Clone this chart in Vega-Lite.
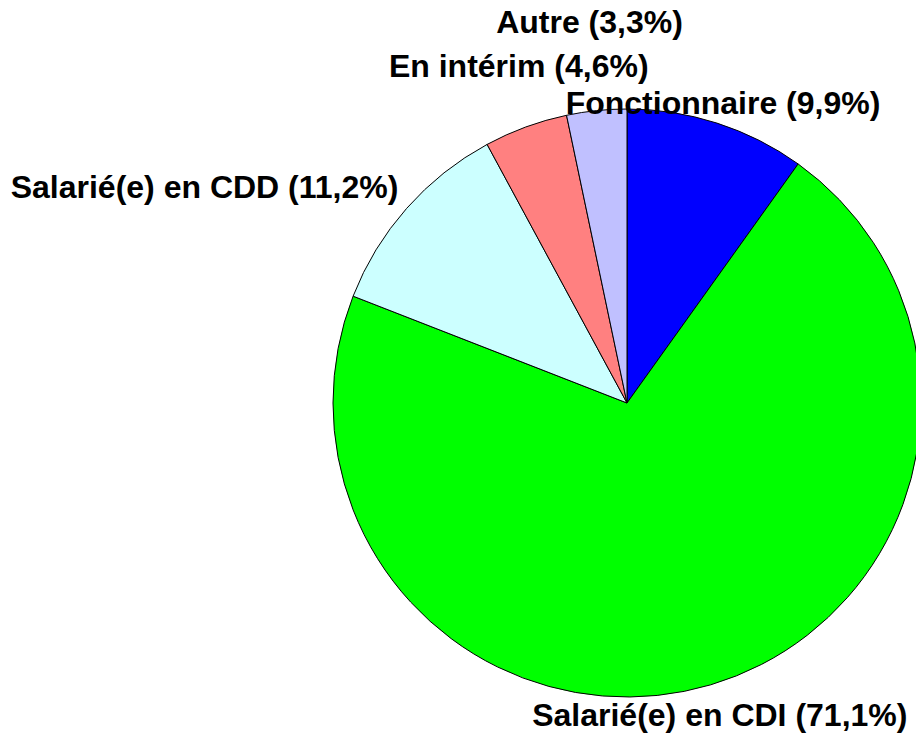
{
  "$schema": "https://vega.github.io/schema/vega-lite/v6.json",
  "autosize": {"type": "none"},
  "width": 578,
  "height": 658,
  "padding": {"left": 338, "top": 74, "right": 0, "bottom": 1},
  "background": "white",
  "config": {"view": {"stroke": null}},
  "data": {
    "values": [
      {"rang": 1, "categorie": "Fonctionnaire", "pct": 9.9, "label": "Fonctionnaire (9,9%)"},
      {"rang": 2, "categorie": "Salarié(e) en CDI", "pct": 71.1, "label": "Salarié(e) en CDI (71,1%)"},
      {"rang": 3, "categorie": "Salarié(e) en CDD", "pct": 11.2, "label": "Salarié(e) en CDD (11,2%)"},
      {"rang": 4, "categorie": "En intérim", "pct": 4.6, "label": "En intérim (4,6%)"},
      {"rang": 5, "categorie": "Autre", "pct": 3.3, "label": "Autre (3,3%)"}
    ]
  },
  "encoding": {
    "theta": {"field": "pct", "type": "quantitative", "stack": true},
    "order": {"field": "rang", "type": "quantitative", "sort": "ascending"}
  },
  "layer": [
    {
      "mark": {"type": "arc", "radius": 294, "stroke": "black", "strokeWidth": 1},
      "encoding": {
        "color": {
          "field": "categorie",
          "type": "nominal",
          "scale": {
            "domain": ["Fonctionnaire", "Salarié(e) en CDI", "Salarié(e) en CDD", "En intérim", "Autre"],
            "range": ["#0000FF", "#00FF00", "#CCFFFF", "#FF8080", "#C0C0FF"]
          },
          "legend": null
        }
      }
    },
    {
      "mark": {"type": "text", "radius": 314, "align": "center", "baseline": "middle", "font": "Liberation Sans", "fontWeight": "bold", "fontSize": 32, "color": "black"},
      "encoding": {"text": {"condition": {"test": "datum.rang === 1", "field": "label"}, "value": ""}}
    },
    {
      "mark": {"type": "text", "radius": 326, "align": "center", "baseline": "middle", "font": "Liberation Sans", "fontWeight": "bold", "fontSize": 32, "color": "black"},
      "encoding": {"text": {"condition": {"test": "datum.rang === 2", "field": "label"}, "value": ""}}
    },
    {
      "mark": {"type": "text", "radius": 309, "dx": 3, "align": "right", "baseline": "alphabetic", "font": "Liberation Sans", "fontWeight": "bold", "fontSize": 32, "color": "black"},
      "encoding": {"text": {"condition": {"test": "datum.rang === 3", "field": "label"}, "value": ""}}
    },
    {
      "mark": {"type": "text", "radius": 358, "dx": 15, "align": "center", "baseline": "middle", "font": "Liberation Sans", "fontWeight": "bold", "fontSize": 32, "color": "black"},
      "encoding": {"text": {"condition": {"test": "datum.rang === 4", "field": "label"}, "value": ""}}
    },
    {
      "mark": {"type": "text", "radius": 382, "dx": 2, "align": "center", "baseline": "middle", "font": "Liberation Sans", "fontWeight": "bold", "fontSize": 32, "color": "black"},
      "encoding": {"text": {"condition": {"test": "datum.rang === 5", "field": "label"}, "value": ""}}
    }
  ]
}
